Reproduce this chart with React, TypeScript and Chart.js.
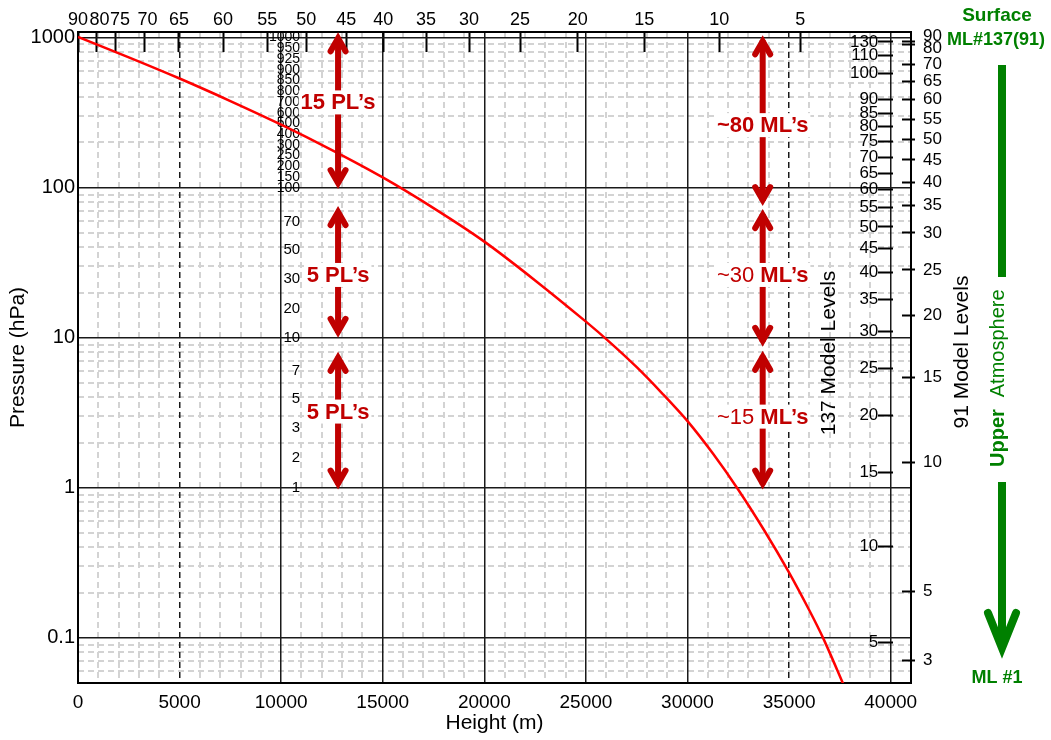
import React, { useEffect, useRef } from 'react';
import { Chart, registerables } from 'chart.js';

Chart.register(...registerables);

// ---------------- data ----------------
const HEIGHTS_M = [0, 2500, 5000, 7500, 10000, 12500, 15000, 17500, 20000, 22500, 25000, 26250, 27500, 28750, 30000, 31250, 32500, 33750, 35000, 36000, 36700, 37700];
const PRESSURE_HPA = [1010, 739, 534, 378, 263, 178, 117, 73.1, 43.7, 24.1, 12.8, 9.14, 6.36, 4.26, 2.78, 1.69, 0.971, 0.527, 0.272, 0.152, 0.098, 0.048];

const X_TICKS = [0, 5000, 10000, 15000, 20000, 25000, 30000, 35000, 40000];
const Y_TICKS = [0.1, 1, 10, 100, 1000];
const Y_TICK_LABELS = ['0.1', '1', '10', '100', '1000'];

// top axis: 91-level model level numbers at their heights (m)
const TOP_LEVELS = ['90', '80', '75', '70', '65', '60', '55', '50', '45', '40', '35', '30', '25', '20', '15', '10', '5'];
const TOP_HEIGHTS = [0, 890, 1870, 3250, 4970, 7140, 9310, 11230, 13200, 15020, 17130, 19250, 21760, 24600, 27870, 31560, 35550];
const TOP_LABEL_AT = [0, 1060, 2070, 3420, 4970, 7140, 9310, 11230, 13200, 15020, 17130, 19250, 21760, 24600, 27870, 31560, 35550];

// 137-level model levels at pressures (hPa)
const ML137_LEVELS = ['130', '110', '100', '90', '85', '80', '75', '70', '65', '60', '55', '50', '45', '40', '35', '30', '25', '20', '15', '10', '5'];
const ML137_P = [935, 763, 579, 389, 314, 257, 204, 160, 125, 97.9, 74.3, 54.7, 39.6, 27.4, 18.1, 10.95, 6.21, 3.02, 1.26, 0.406, 0.0934];

// 91-level model levels at pressures (hPa)
const ML91_LEVELS = ['90', '80', '70', '65', '60', '55', '50', '45', '40', '35', '30', '25', '20', '15', '10', '5', '3'];
const ML91_P = [949, 898, 665, 512, 389, 286, 211, 153, 109, 76.6, 49.9, 28.3, 14.0, 5.41, 1.47, 0.204, 0.0708];

// standard pressure levels, drawn at evenly spaced decade positions
const PL_LABELS = ['1000', '950', '925', '900', '850', '800', '700', '600', '500', '400', '300', '250', '200', '150', '100', '70', '50', '30', '20', '10', '7', '5', '3', '2', '1'];
const PL_POS = [3, 2.929, 2.857, 2.786, 2.714, 2.643, 2.571, 2.5, 2.429, 2.357, 2.286, 2.214, 2.143, 2.071, 2, 1.77, 1.585, 1.395, 1.195, 1.0, 0.776, 0.59, 0.4, 0.198, 0.0];

// annotation spans (height m, pressure hPa)
const SPAN_X = [12800, 12800, 12800, 33700, 33700, 33700];
const SPAN_TOP_P = [1084, 75.4, 8.06, 1036, 72.0, 8.18];
const SPAN_BOTTOM_P = [97.9, 9.98, 0.973, 75.4, 8.7, 0.973];
const SPAN_LABEL_P = [370, 26.2, 3.22, 261, 26.2, 2.98];
const SPAN_LABEL_PLAIN = ['', '', '', '', '~30 ', '~15 '];
const SPAN_LABEL_BOLD = ['15 PL\u2019s', '5 PL\u2019s', '5 PL\u2019s', '~80 ML\u2019s', 'ML\u2019s', 'ML\u2019s'];

// ---------------- constants ----------------
const FONT = "'Liberation Sans', Arial, Helvetica, sans-serif";
const X_MAX = 41000;
const Y_MIN = 0.05;
const Y_MAX = 1090;
const RED = '#c00000';
const GREEN = '#008000';
const MAJOR = '#1a1a1a';
const MINOR = '#d3d3d3';
const DASHED_MAJOR_X = [5000, 35000];

function minorX(): number[] {
  const out: number[] = [];
  for (let v = 1000; v < X_MAX; v += 1000) if (v % 5000 !== 0) out.push(v);
  return out;
}
function minorY(): number[] {
  const out: number[] = [];
  for (let e = -2; e <= 3; e++) {
    for (let m = 2; m <= 9; m++) {
      const v = m * Math.pow(10, e);
      if (v > Y_MIN * 1.001 && v < Y_MAX) out.push(v);
    }
  }
  return out;
}

function chevron(ctx: CanvasRenderingContext2D, x: number, vy: number, w: number, l: number, dir: number) {
  ctx.beginPath();
  ctx.moveTo(x - w, vy + dir * l);
  ctx.lineTo(x, vy);
  ctx.lineTo(x + w, vy + dir * l);
  ctx.stroke();
}

function doubleArrow(ctx: CanvasRenderingContext2D, x: number, yTop: number, yBot: number) {
  ctx.strokeStyle = RED;
  ctx.lineWidth = 6;
  ctx.lineCap = 'butt';
  ctx.beginPath();
  ctx.moveTo(x, yTop + 5);
  ctx.lineTo(x, yBot - 5);
  ctx.stroke();
  ctx.lineJoin = 'miter';
  ctx.miterLimit = 10;
  ctx.lineCap = 'round';
  chevron(ctx, x, yTop + 6, 7.5, 13, 1);
  chevron(ctx, x, yBot - 6, 7.5, 13, -1);
}

const annotatePlugin = {
  id: 'annotate',
  afterDatasetsDraw(chart: any) {
    const { ctx } = chart;
    const x = chart.scales.x;
    const y = chart.scales.y;
    ctx.save();
    for (let i = 0; i < SPAN_X.length; i++) {
      const px = x.getPixelForValue(SPAN_X[i]);
      doubleArrow(ctx, px, y.getPixelForValue(SPAN_TOP_P[i]), y.getPixelForValue(SPAN_BOTTOM_P[i]));
    }
    ctx.textBaseline = 'middle';
    ctx.textAlign = 'left';
    for (let i = 0; i < SPAN_X.length; i++) {
      const px = x.getPixelForValue(SPAN_X[i]);
      const py = y.getPixelForValue(SPAN_LABEL_P[i]);
      const plainFont = `22px ${FONT}`;
      const boldFont = `bold 22px ${FONT}`;
      ctx.font = plainFont;
      const wp = SPAN_LABEL_PLAIN[i] ? ctx.measureText(SPAN_LABEL_PLAIN[i]).width : 0;
      ctx.font = boldFont;
      const wb = ctx.measureText(SPAN_LABEL_BOLD[i]).width;
      const left = px - (wp + wb) / 2;
      ctx.fillStyle = '#ffffff';
      ctx.fillRect(left - 2, py - 12, wp + wb + 4, 24);
      ctx.fillStyle = RED;
      if (wp) {
        ctx.font = plainFont;
        ctx.fillText(SPAN_LABEL_PLAIN[i], left, py + 1);
      }
      ctx.font = boldFont;
      ctx.fillText(SPAN_LABEL_BOLD[i], left + wp, py + 1);
    }
    ctx.restore();
  },
  afterDraw(chart: any) {
    const { ctx } = chart;
    ctx.save();
    // right axis titles
    ctx.fillStyle = '#000';
    ctx.font = `21px ${FONT}`;
    ctx.textAlign = 'center';
    ctx.textBaseline = 'middle';
    const titles: [string, number, number][] = [['137 Model Levels', 829, 353], ['91 Model Levels', 962, 352]];
    for (const [t, tx, ty] of titles) {
      ctx.save();
      ctx.translate(tx, ty);
      ctx.rotate(-Math.PI / 2);
      ctx.fillText(t, 0, 0);
      ctx.restore();
    }
    // green annotation
    ctx.fillStyle = GREEN;
    ctx.strokeStyle = GREEN;
    ctx.font = `bold 19px ${FONT}`;
    ctx.fillText('Surface', 997, 16);
    ctx.font = `bold 18px ${FONT}`;
    ctx.fillText('ML#137(91)', 996, 40);
    ctx.fillText('ML #1', 997, 678);
    ctx.lineWidth = 8;
    ctx.lineCap = 'butt';
    ctx.beginPath();
    ctx.moveTo(1002, 65);
    ctx.lineTo(1002, 277);
    ctx.moveTo(1002, 482);
    ctx.lineTo(1002, 644);
    ctx.stroke();
    ctx.lineJoin = 'miter';
    ctx.lineCap = 'round';
    chevron(ctx, 1002, 648, 14, 35, -1);
    // rotated "Upper Atmosphere"
    ctx.save();
    ctx.translate(998, 467);
    ctx.rotate(-Math.PI / 2);
    ctx.textAlign = 'left';
    ctx.font = `bold 20px ${FONT}`;
    ctx.fillText('Upper', 0, 0);
    const wu = ctx.measureText('Upper').width;
    ctx.font = `20px ${FONT}`;
    ctx.fillText('Atmosphere', wu + 12, 0);
    ctx.restore();
    ctx.restore();
  },
};

export default function App() {
  const ref = useRef<HTMLCanvasElement>(null);
  useEffect(() => {
    const canvas = ref.current;
    if (!canvas) return;
    Chart.defaults.font.family = FONT;
    Chart.defaults.color = '#000';

    const points = HEIGHTS_M.map((h, i) => ({ x: h, y: PRESSURE_HPA[i] }));

    const chart = new Chart(canvas, {
      type: 'line',
      data: {
        datasets: [
          {
            data: points,
            xAxisID: 'x',
            yAxisID: 'y',
            borderColor: '#ff0000',
            borderWidth: 2.5,
            pointRadius: 0,
            tension: 0.3,
            fill: false,
          },
        ],
      },
      options: {
        responsive: false,
        animation: false,
        events: [],
        layout: { padding: 0 },
        plugins: { legend: { display: false }, tooltip: { enabled: false }, title: { display: false } },
        scales: {
          x: {
            type: 'linear',
            axis: 'x',
            position: 'bottom',
            min: 0,
            max: X_MAX,
            afterBuildTicks: (s: any) => { s.ticks = X_TICKS.map((v) => ({ value: v })); },
            afterFit: (s: any) => { s.height = 57; },
            ticks: { callback: (v: any) => String(v), font: { size: 19 }, padding: 8, maxRotation: 0, minRotation: 0, autoSkip: false },
            grid: { color: MAJOR, lineWidth: 1.5, drawTicks: false, z: -1 },
            border: {
              display: true,
              color: '#000',
              width: 2,
              dash: (c: any) => (c.tick && DASHED_MAJOR_X.indexOf(c.tick.value) >= 0 ? [6, 4] : []),
            },
            title: { display: true, text: 'Height (m)', font: { size: 21 }, padding: { top: 0, bottom: 4 } },
          },
          xMinor: {
            type: 'linear',
            axis: 'x',
            position: 'bottom',
            min: 0,
            max: X_MAX,
            afterBuildTicks: (s: any) => { s.ticks = minorX().map((v) => ({ value: v })); },
            afterFit: (s: any) => { s.height = 0; },
            ticks: { display: false, autoSkip: false },
            grid: { color: MINOR, lineWidth: 2, drawTicks: false, z: -2 },
            border: { display: false, dash: [6, 4] },
          },
          xTop: {
            type: 'linear',
            axis: 'x',
            position: 'top',
            weight: 0,
            min: 0,
            max: X_MAX,
            afterBuildTicks: (s: any) => { s.ticks = TOP_HEIGHTS.map((v) => ({ value: v })); },
            afterFit: (s: any) => { s.height = 0; },
            ticks: { display: false, autoSkip: false, maxRotation: 0, minRotation: 0 },
            grid: { drawOnChartArea: false, drawTicks: true, tickLength: -20, tickWidth: 2, tickColor: '#000', z: -1 },
            border: { display: true, color: '#000', width: 2 },
          },
          xTopLabels: {
            type: 'linear',
            axis: 'x',
            position: 'top',
            weight: 1,
            min: 0,
            max: X_MAX,
            afterBuildTicks: (s: any) => { s.ticks = TOP_LABEL_AT.map((v) => ({ value: v })); },
            afterFit: (s: any) => { s.height = 32; },
            ticks: { callback: (_v: any, i: number) => TOP_LEVELS[i], font: { size: 18 }, padding: 1, maxRotation: 0, minRotation: 0, autoSkip: false },
            grid: { display: false, drawTicks: false },
            border: { display: false },
          },
          y: {
            type: 'logarithmic',
            axis: 'y',
            position: 'left',
            min: Y_MIN,
            max: Y_MAX,
            afterBuildTicks: (s: any) => { s.ticks = Y_TICKS.map((v) => ({ value: v })); },
            afterFit: (s: any) => { s.width = 78; },
            ticks: { callback: (_v: any, i: number) => Y_TICK_LABELS[i], font: { size: 20 }, padding: 3, autoSkip: false },
            grid: { color: MAJOR, lineWidth: 1.5, drawTicks: false, z: -1 },
            border: { display: true, color: '#000', width: 2 },
            title: { display: true, text: 'Pressure (hPa)', font: { size: 21 }, padding: { top: 6, bottom: 0 } },
          },
          yMinor: {
            type: 'logarithmic',
            axis: 'y',
            position: 'left',
            min: Y_MIN,
            max: Y_MAX,
            afterBuildTicks: (s: any) => { s.ticks = minorY().map((v) => ({ value: v })); },
            afterFit: (s: any) => { s.width = 0; },
            ticks: { display: false, autoSkip: false },
            grid: { color: MINOR, lineWidth: 2, drawTicks: false, z: -2 },
            border: { display: false, dash: [6, 4] },
          },
          pl: {
            type: 'linear',
            axis: 'y',
            position: { x: 10930 },
            min: Math.log10(Y_MIN),
            max: Math.log10(Y_MAX),
            afterBuildTicks: (s: any) => { s.ticks = PL_POS.map((v) => ({ value: v })); },
            ticks: {
              callback: (_v: any, i: number) => PL_LABELS[i],
              font: (c: any) => ({ size: c.index < 15 ? 14 : 15 }),
              autoSkip: false,
            },
            grid: { display: false },
            border: { display: false },
          },
          ml137: {
            type: 'logarithmic',
            axis: 'y',
            position: { x: 39390 },
            min: Y_MIN,
            max: Y_MAX,
            afterBuildTicks: (s: any) => { s.ticks = ML137_P.map((v) => ({ value: v })); },
            ticks: { callback: (_v: any, i: number) => ML137_LEVELS[i], font: { size: 17 }, autoSkip: false },
            grid: { drawOnChartArea: false, drawTicks: true, tickLength: -15, tickWidth: 2, tickColor: '#000' },
            border: { display: false },
          },
          rSpacer: {
            type: 'linear',
            axis: 'y',
            position: 'right',
            weight: 1,
            min: 0,
            max: 1,
            afterFit: (s: any) => { s.width = 4; },
            ticks: { display: false },
            grid: { drawOnChartArea: false, drawTicks: false },
            border: { display: true, color: '#000', width: 2 },
          },
          ml91: {
            type: 'logarithmic',
            axis: 'y',
            position: 'right',
            weight: 2,
            min: Y_MIN,
            max: Y_MAX,
            afterBuildTicks: (s: any) => { s.ticks = ML91_P.map((v) => ({ value: v })); },
            afterFit: (s: any) => { s.width = 136; },
            ticks: {
              callback: (_v: any, i: number) => (i === 0 ? [ML91_LEVELS[i], ''] : i === 1 ? ['', ML91_LEVELS[i]] : ML91_LEVELS[i]),
              font: (c: any) => (c.index === 0 ? { size: 17, lineHeight: '10px' } : c.index === 1 ? { size: 17, lineHeight: '7px' } : { size: 17 }),
              padding: 21,
              autoSkip: false,
            },
            grid: { drawOnChartArea: false, drawTicks: true, tickLength: -13, tickWidth: 2, tickColor: '#000' },
            border: { display: false },
          },
        },
      } as any,
      plugins: [annotatePlugin],
    } as any);
    return () => chart.destroy();
  }, []);

  return (
    <div style={{ position: 'fixed', left: 0, top: 0, width: 1051, height: 740, background: '#ffffff' }}>
      <canvas ref={ref} width={1051} height={740} style={{ display: 'block', width: 1051, height: 740 }} />
    </div>
  );
}
